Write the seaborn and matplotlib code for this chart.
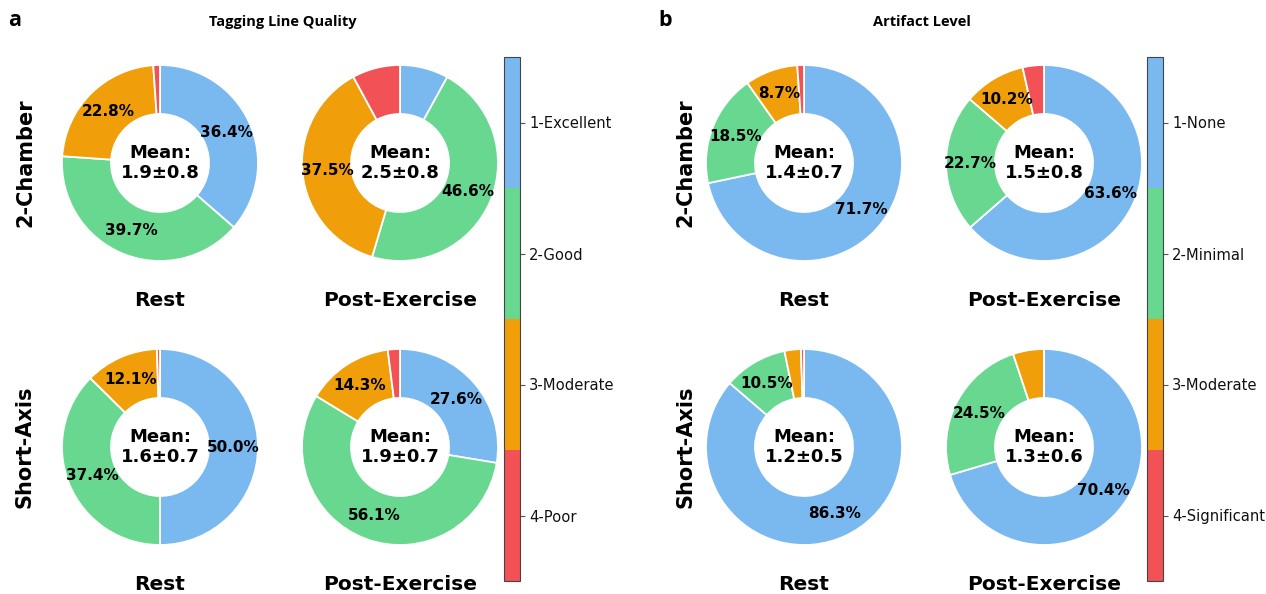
import numpy as np
import matplotlib
matplotlib.use("Agg")
import matplotlib.pyplot as plt
from matplotlib.colors import ListedColormap, BoundaryNorm
from matplotlib.cm import ScalarMappable
import seaborn as sns

# ---- data (percent of cases per grade: 1, 2, 3, 4) ----
views = ["2-Chamber", "Short-Axis"]
conditions = ["Rest", "Post-Exercise"]

tagging_labels = ["1-Excellent", "2-Good", "3-Moderate", "4-Poor"]
tagging_2ch_rest = [36.4, 39.7, 22.8, 1.1]
tagging_2ch_post = [8.0, 46.6, 37.5, 7.9]
tagging_sax_rest = [50.0, 37.4, 12.1, 0.5]
tagging_sax_post = [27.6, 56.1, 14.3, 2.0]
tagging_means = ["1.9±0.8", "2.5±0.8", "1.6±0.7", "1.9±0.7"]

artifact_labels = ["1-None", "2-Minimal", "3-Moderate", "4-Significant"]
artifact_2ch_rest = [71.7, 18.5, 8.7, 1.1]
artifact_2ch_post = [63.6, 22.7, 10.2, 3.5]
artifact_sax_rest = [86.3, 10.5, 2.7, 0.5]
artifact_sax_post = [70.4, 24.5, 5.1, 0.0]
artifact_means = ["1.4±0.7", "1.5±0.8", "1.2±0.5", "1.3±0.6"]

grade_colors = ["#7ab8f0", "#68d890", "#f09f0a", "#f25255"]

sns.set_theme(style="white")
plt.rcParams["font.family"] = ["DejaVu Sans"]
plt.rcParams["text.color"] = "black"
plt.rcParams["ytick.labelcolor"] = "#111111"
palette = sns.color_palette(grade_colors)

W, H = 1266, 594
fig = plt.figure(figsize=(W / 100, H / 100), dpi=100)
fig.patch.set_facecolor("white")


def fx(x):
    return x / W


def fy(y):
    return 1 - y / H


def donut(cx, cy, r, values, mean_txt):
    side = 2.5 * r
    ax = fig.add_axes([fx(cx - side / 2), fy(cy + side / 2), side / W, side / H])
    ax.pie(values, colors=palette, startangle=90, counterclock=False,
           radius=1.0, pctdistance=0.75,
           autopct=lambda p: f"{p:.1f}%" if p >= 8.5 else "",
           wedgeprops=dict(width=0.5, edgecolor="white", linewidth=1.3),
           textprops=dict(fontsize=11, fontweight="bold", color="black"))
    ax.set_xlim(-1.25, 1.25)
    ax.set_ylim(-1.25, 1.25)
    ax.set_aspect("equal")
    ax.text(0, 0, f"Mean:\n{mean_txt}", ha="center", va="center",
            fontsize=13, fontweight="bold", linespacing=1.15, color="black")
    return ax


def colorbar(x0, labels):
    cax = fig.add_axes([fx(x0), fy(581), 16 / W, 524 / H])
    cmap = ListedColormap(list(palette))
    norm = BoundaryNorm([0.5, 1.5, 2.5, 3.5, 4.5], cmap.N)
    cb = fig.colorbar(ScalarMappable(norm=norm, cmap=cmap), cax=cax, ticks=[1, 2, 3, 4])
    cb.ax.minorticks_off()
    cb.ax.set_yticklabels(labels)
    cb.ax.invert_yaxis()
    cb.ax.tick_params(which="major", right=True, length=3.5, width=0.8,
                      color="#555555", labelsize=10.6, pad=3, labelcolor="#111111")
    cb.ax.tick_params(which="minor", length=0)
    cb.outline.set_edgecolor("#444444")
    cb.outline.set_linewidth(0.8)


def panel(x_centers, row_x, values, means, labels, cbar_x, title, title_x, letter, letter_x):
    row_y = [163, 447]
    k = 0
    for i, cy in enumerate(row_y):
        for j, cx in enumerate(x_centers):
            donut(cx, cy, 98, values[k], means[k])
            fig.text(fx(cx), fy(cy + 137), conditions[j], ha="center", va="center",
                     fontsize=14.5, fontweight="bold")
            k += 1
        fig.text(fx(row_x), fy(cy), views[i], rotation=90, ha="center", va="center",
                 fontsize=15, fontweight="bold")
    colorbar(cbar_x, labels)
    fig.text(fx(title_x), fy(22), title, ha="center", va="center",
             fontsize=10.5, fontweight="bold", family=["Open Sans", "DejaVu Sans"])
    fig.text(fx(letter_x), fy(20), letter, ha="center", va="center",
             fontsize=15.5, fontweight="bold", family=["Open Sans", "DejaVu Sans"])


panel([160, 400], 25,
      [tagging_2ch_rest, tagging_2ch_post, tagging_sax_rest, tagging_sax_post],
      tagging_means, tagging_labels, 504, "Tagging Line Quality", 283, "a", 15)
panel([804, 1044], 685,
      [artifact_2ch_rest, artifact_2ch_post, artifact_sax_rest, artifact_sax_post],
      artifact_means, artifact_labels, 1147, "Artifact Level", 922, "b", 665)

fig.savefig("out.png", dpi=100, facecolor="white")
